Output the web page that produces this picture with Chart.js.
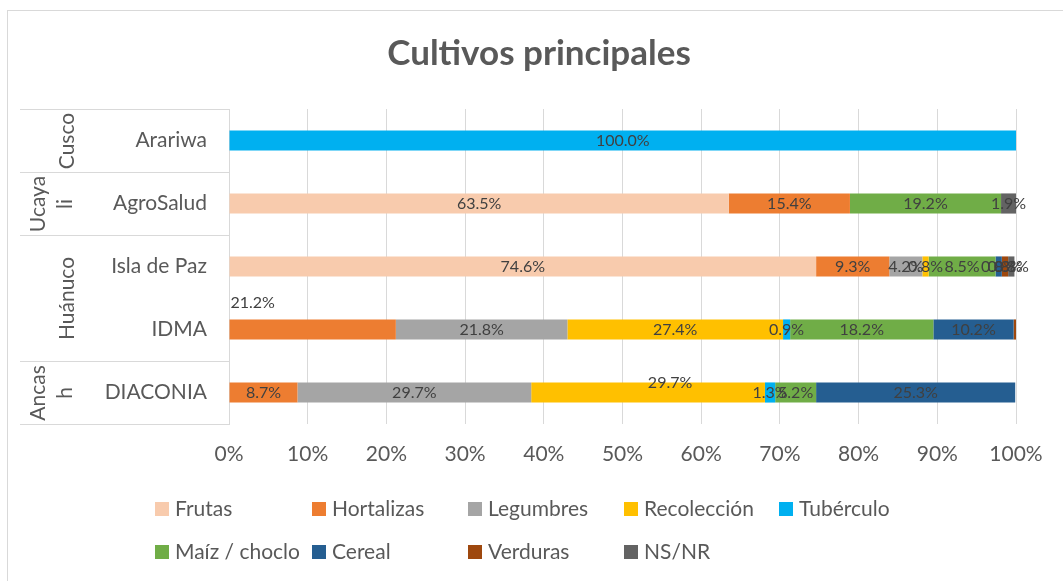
<!DOCTYPE html>
<html lang="es">
<head>
<meta charset="utf-8">
<title>Cultivos principales</title>
<script src="https://cdn.jsdelivr.net/npm/chart.js@4.4.1/dist/chart.umd.min.js"></script>
<style>
  html, body { margin: 0; padding: 0; background: #fff; }
</style>
</head>
<body>
<canvas id="grafico" width="1063" height="581"></canvas>
<script>
const categorias = ['Arariwa', 'AgroSalud', 'Isla de Paz', 'IDMA', 'DIACONIA'];
const regiones = [
    { lineas: ['Cusco'], desde: 0, hasta: 0 },
    { lineas: ['Ucaya', 'li'], desde: 1, hasta: 1 },
    { lineas: ['Huánuco'], desde: 2, hasta: 3 },
    { lineas: ['Ancas', 'h'], desde: 4, hasta: 4 }
];
const etiquetasX = ['0%', '10%', '20%', '30%', '40%', '50%', '60%', '70%', '80%', '90%', '100%'];

const frutas      = [null, 63.5, 74.6, null, null];
const hortalizas  = [null, 15.4, 9.3, 21.2, 8.7];
const legumbres   = [null, null, 4.2, 21.8, 29.7];
const recoleccion = [null, null, 0.8, 27.4, 29.7];
const tuberculo   = [100.0, null, null, 0.9, 1.3];
const maiz        = [null, 19.2, 8.5, 18.2, 5.2];
const cereal      = [null, null, 0.8, 10.2, 25.3];
const verduras    = [null, null, 0.8, 0.3, null];
const nsnr        = [null, 1.9, 0.8, null, null];

const series = [
    { label: 'Frutas', data: frutas, color: '#F8CBAD' },
    { label: 'Hortalizas', data: hortalizas, color: '#ED7D31' },
    { label: 'Legumbres', data: legumbres, color: '#A5A5A5' },
    { label: 'Recolección', data: recoleccion, color: '#FFC000' },
    { label: 'Tubérculo', data: tuberculo, color: '#00B0F0' },
    { label: 'Maíz / choclo', data: maiz, color: '#70AD47' },
    { label: 'Cereal', data: cereal, color: '#255E91' },
    { label: 'Verduras', data: verduras, color: '#9E480E' },
    { label: 'NS/NR', data: nsnr, color: '#636363' }
];

const fuente = 'Lato, "Open Sans", sans-serif';
const gris = '#595959';
const lineaGris = '#d9d9d9';

// etiquetas que en el original fueron movidas a mano (serie-categoria)
const desplazamientos = { '1-3': [-60, -27], '3-4': [22, -10] };

const marco = {
    id: 'marco',
    beforeDraw(chart) {
        const ctx = chart.ctx;
        ctx.save();
        ctx.strokeStyle = lineaGris;
        ctx.lineWidth = 1;
        ctx.strokeRect(7.5, 10.5, 1200, 700);
        ctx.restore();
    }
};

const etiquetasDatos = {
    id: 'etiquetasDatos',
    afterDatasetsDraw(chart) {
        const ctx = chart.ctx;
        ctx.save();
        ctx.font = '16px ' + fuente;
        ctx.fillStyle = '#404040';
        ctx.textAlign = 'center';
        ctx.textBaseline = 'middle';
        chart.data.datasets.forEach((ds, i) => {
            chart.getDatasetMeta(i).data.forEach((barra, j) => {
                const valor = ds.data[j];
                if (!valor || valor < 0.5) return;
                const d = desplazamientos[i + '-' + j] || [0, 0];
                const c = barra.getCenterPoint();
                ctx.fillText(valor.toFixed(1) + '%', c.x + d[0], c.y + d[1]);
            });
        });
        ctx.restore();
    }
};

const ejeRegiones = {
    id: 'ejeRegiones',
    afterDraw(chart) {
        const ctx = chart.ctx;
        const y = chart.scales.y;
        const paso = y.getPixelForTick(1) - y.getPixelForTick(0);
        ctx.save();
        ctx.strokeStyle = lineaGris;
        ctx.lineWidth = 1;
        ctx.font = '21px ' + fuente;
        ctx.fillStyle = gris;
        ctx.textAlign = 'center';
        ctx.textBaseline = 'middle';
        regiones.forEach(r => {
            const arriba = Math.round(y.getPixelForTick(r.desde) - paso / 2) + 0.5;
            const abajo = Math.round(y.getPixelForTick(r.hasta) + paso / 2) + 0.5;
            [arriba, abajo].forEach(py => {
                ctx.beginPath();
                ctx.moveTo(20, py);
                ctx.lineTo(chart.chartArea.left, py);
                ctx.stroke();
            });
            const centro = (arriba + abajo) / 2;
            const xs = r.lineas.length === 1 ? [67] : [38, 65];
            r.lineas.forEach((texto, k) => {
                ctx.save();
                ctx.translate(xs[k], centro);
                ctx.rotate(-Math.PI / 2);
                ctx.fillText(texto, 0, 0);
                ctx.restore();
            });
        });
        ctx.restore();
    }
};

const leyenda = {
    id: 'leyenda',
    afterDraw(chart) {
        const ctx = chart.ctx;
        const columnas = [155, 312, 468, 624, 779];
        const filas = [509, 552];
        ctx.save();
        ctx.font = '21px ' + fuente;
        ctx.textBaseline = 'middle';
        chart.data.datasets.forEach((ds, i) => {
            const x = columnas[i % 5];
            const y = filas[Math.floor(i / 5)];
            ctx.fillStyle = ds.backgroundColor;
            ctx.fillRect(x, y - 7, 14, 14);
            ctx.fillStyle = gris;
            ctx.fillText(ds.label, x + 20, y);
        });
        ctx.restore();
    }
};

const ctx = document.getElementById('grafico').getContext('2d');
new Chart(ctx, {
    type: 'bar',
    data: {
        labels: categorias,
        datasets: series.map(s => ({
            label: s.label,
            data: s.data,
            backgroundColor: s.color,
            borderWidth: 0,
            barPercentage: 0.32,
            categoryPercentage: 1
        }))
    },
    options: {
        indexAxis: 'y',
        responsive: false,
        animation: false,
        devicePixelRatio: 1,
        layout: { padding: { top: 0, right: 47, bottom: 100, left: 62 } },
        scales: {
            x: {
                stacked: true,
                min: 0,
                max: 100,
                ticks: {
                    stepSize: 10,
                    padding: 18,
                    color: gris,
                    font: { family: fuente, size: 21 },
                    callback: (v, i) => etiquetasX[i]
                },
                grid: { color: lineaGris, drawTicks: false },
                border: { display: false },
                afterFit: s => { s.height = 57; }
            },
            y: {
                stacked: true,
                ticks: {
                    padding: 22,
                    color: gris,
                    font: { family: fuente, size: 21 }
                },
                grid: { display: false, drawTicks: false },
                border: { display: true, color: lineaGris },
                afterFit: s => { s.width = 167; }
            }
        },
        plugins: {
            legend: { display: false },
            tooltip: { enabled: false },
            title: {
                display: true,
                text: 'Cultivos principales',
                color: gris,
                font: { family: fuente, size: 35, weight: 'bold' },
                padding: { top: 33, bottom: 34 }
            }
        }
    },
    plugins: [marco, etiquetasDatos, ejeRegiones, leyenda]
});
</script>
</body>
</html>
